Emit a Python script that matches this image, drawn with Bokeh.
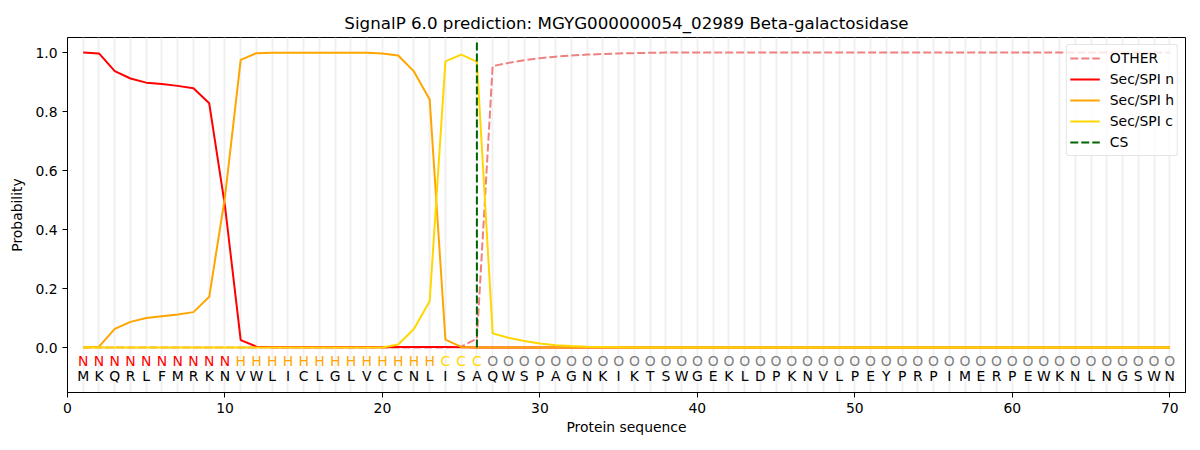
from bokeh.plotting import figure
from bokeh.models import FixedTicker, Legend, LegendItem, ColumnDataSource, CustomJSTickFormatter
from bokeh.embed import file_html
from bokeh.resources import INLINE
from bokeh.core.properties import value

title = "SignalP 6.0 prediction: MGYG000000054_02989 Beta-galactosidase"
sequence = list("MKQRLFMRKNVWLICLGLVCCNLISAQWSPAGNKIKTSWGEKLDPKNVLPEYPRPIMERPEWKNLNGSWN")
labels = list("N" * 10 + "H" * 13 + "C" * 3 + "O" * 44)
positions = list(range(1, 71))

sp_n = [1.0, 0.997, 0.937, 0.912, 0.898, 0.893, 0.887, 0.879, 0.828, 0.48,
        0.025, 0.003, 0.001, 0.001, 0.001, 0.001, 0.001, 0.001, 0.001, 0.001,
        0.002, 0.002, 0.002, 0.002, 0.001, 0.0] + [0.0] * 44
sp_h = [0.0, 0.003, 0.063, 0.087, 0.100, 0.106, 0.112, 0.120, 0.172, 0.51,
        0.975, 0.998, 0.999, 0.999, 0.999, 0.999, 0.999, 0.999, 0.999, 0.997,
        0.990, 0.936, 0.841, 0.027, 0.002, 0.0] + [0.0] * 44
sp_c = [0.0] * 20 + [0.010, 0.063, 0.157, 0.970, 0.993, 0.969,
        0.048, 0.033, 0.022, 0.014, 0.008, 0.005, 0.003, 0.002, 0.001] + [0.0] * 35
other = [0.0] * 24 + [0.003, 0.030, 0.954, 0.965, 0.974, 0.981, 0.986, 0.990,
         0.993, 0.995, 0.997, 0.998, 0.999] + [1.0] * 33
cs_pos = 26

label_colors = {"N": "red", "H": "orange", "C": "gold", "O": "gray"}

FS = "13.9px"

p = figure(width=1192, height=442, output_backend="svg", toolbar_location=None,
           x_range=(0, 71), y_range=(-0.1525, 1.051),
           min_border_left=67, min_border_right=7, min_border_top=37, min_border_bottom=50)

p.title.text = title
p.title.align = "center"
p.title.text_font = "DejaVu Sans"
p.title.text_font_size = "16.7px"
p.title.text_font_style = "normal"
p.title.text_color = "black"

p.outline_line_color = "black"
p.outline_line_width = 1
p.ygrid.visible = False
p.xgrid.ticker = FixedTicker(ticks=positions)
p.xgrid.grid_line_color = "#f0f0f0"
p.xgrid.grid_line_width = 2

p.xaxis.ticker = FixedTicker(ticks=[0, 10, 20, 30, 40, 50, 60, 70])
p.yaxis.ticker = FixedTicker(ticks=[0.0, 0.2, 0.4, 0.6, 0.8, 1.0])
p.yaxis.formatter = CustomJSTickFormatter(code="return tick.toFixed(1);")
p.xaxis.axis_label = "Protein sequence"
p.yaxis.axis_label = "Probability"
for ax in (p.xaxis, p.yaxis):
    ax.axis_label_text_font = "DejaVu Sans"
    ax.axis_label_text_font_size = FS
    ax.axis_label_text_font_style = "normal"
    ax.axis_label_text_color = "black"
    ax.major_label_text_font = "DejaVu Sans"
    ax.major_label_text_font_size = FS
    ax.major_label_text_color = "black"
    ax.major_tick_in = 0
    ax.major_tick_out = 5
    ax.major_tick_line_color = "black"
    ax.minor_tick_line_color = None
    ax.axis_line_color = "black"
p.xaxis.axis_label_standoff = 3
p.yaxis.axis_label_standoff = 7

r_other = p.line(positions, other, line_color="lightcoral", line_width=2, line_dash="8 3")
r_n = p.line(positions, sp_n, line_color="red", line_width=2)
r_h = p.line(positions, sp_h, line_color="orange", line_width=2)
r_c = p.line(positions, sp_c, line_color="gold", line_width=2)
r_cs = p.segment(x0=[cs_pos], y0=[0.0], x1=[cs_pos], y1=[1.037], line_color="darkgreen",
                 line_width=2, line_dash="8 3")

src = ColumnDataSource(dict(x=positions, lab=labels, seq=sequence,
                            col=[label_colors[l] for l in labels],
                            y1=[-0.047] * 70, y2=[-0.098] * 70))
p.text(x="x", y="y1", text="lab", text_color="col", source=src, text_align="center",
       text_baseline="middle", text_font=value("DejaVu Sans"), text_font_size=FS)
p.text(x="x", y="y2", text="seq", text_color="black", source=src, text_align="center",
       text_baseline="middle", text_font=value("DejaVu Sans"), text_font_size=FS)

legend = Legend(items=[
    LegendItem(label="OTHER", renderers=[r_other]),
    LegendItem(label="Sec/SPI n", renderers=[r_n]),
    LegendItem(label="Sec/SPI h", renderers=[r_h]),
    LegendItem(label="Sec/SPI c", renderers=[r_c]),
    LegendItem(label="CS", renderers=[r_cs]),
], location="top_right")
legend.label_text_font = "DejaVu Sans"
legend.label_text_font_size = FS
legend.label_text_color = "black"
legend.border_line_color = "#cccccc"
legend.border_radius = 3
legend.background_fill_alpha = 0.8
legend.spacing = 1
legend.padding = 3
legend.margin = 7
legend.glyph_width = 30
legend.label_height = 20
legend.glyph_height = 20
legend.label_standoff = 10
p.add_layout(legend)

open("out.html", "w").write(file_html(p, INLINE))
